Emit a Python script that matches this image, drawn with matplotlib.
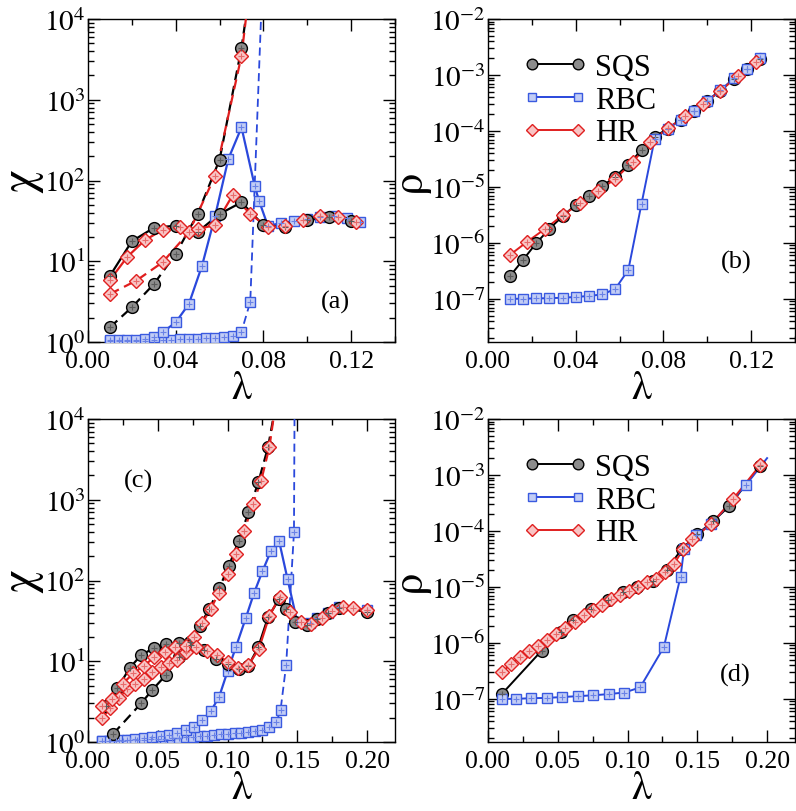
import numpy as np
import matplotlib
matplotlib.use("Agg")
import matplotlib.pyplot as plt
from matplotlib.ticker import LogLocator, MultipleLocator, FuncFormatter, NullFormatter
from matplotlib.lines import Line2D

plt.rcParams['font.family'] = ['Liberation Serif', 'DejaVu Serif']
plt.rcParams['mathtext.fontset'] = 'stix'

# ---------------- data: panel (a) chi vs lambda ----------------
a_sqs_sol_lam = [0.010, 0.020, 0.030, 0.040, 0.050, 0.060, 0.070, 0.080, 0.090, 0.100, 0.110, 0.120]
a_sqs_sol_chi = [6.6, 17.7, 25.9, 27.6, 23.0, 38.5, 53.7, 27.9, 26.8, 32.3, 35.0, 31.8]
a_sqs_dsh_lam = [0.010, 0.020, 0.030, 0.040, 0.050, 0.060, 0.070, 0.0725]
a_sqs_dsh_chi = [1.52, 2.69, 5.2, 12.3, 38.5, 181, 4370, 1.3e4]
a_hr_sol_lam = [0.010, 0.018, 0.026, 0.034, 0.042, 0.050, 0.058, 0.066, 0.074, 0.082, 0.090, 0.098, 0.106, 0.114, 0.122]
a_hr_sol_chi = [5.86, 11.4, 18.3, 24.4, 26.4, 25.0, 28.1, 66, 38.5, 26.4, 27.6, 32.7, 36.6, 35.0, 30.9]
a_hr_dsh_lam = [0.010, 0.022, 0.034, 0.046, 0.058, 0.070, 0.0725]
a_hr_dsh_chi = [3.93, 5.75, 9.7, 22.8, 115, 3515, 1.3e4]
a_rbc_sol_lam = [0.010, 0.014, 0.018, 0.022, 0.026, 0.030, 0.034, 0.040, 0.046, 0.052, 0.058, 0.064,
                 0.070, 0.076, 0.078, 0.082, 0.088, 0.094, 0.100, 0.106, 0.112, 0.118, 0.124]
a_rbc_sol_chi = [1.05, 1.05, 1.06, 1.07, 1.09, 1.15, 1.32, 1.75, 2.96, 8.8, 36.7, 185,
                 455, 86, 56, 27.6, 29.5, 31.8, 33.4, 35.5, 36.0, 34.0, 30.9]
a_rbc_dsh_lam = [0.010, 0.014, 0.018, 0.022, 0.026, 0.030, 0.034, 0.038, 0.042, 0.046, 0.050, 0.054,
                 0.058, 0.062, 0.066, 0.070, 0.074, 0.0790]
a_rbc_dsh_chi = [1.02, 1.02, 1.03, 1.03, 1.04, 1.05, 1.06, 1.07, 1.08, 1.09, 1.10, 1.11,
                 1.13, 1.16, 1.19, 1.34, 3.15, 1.2e4]

# ---------------- data: panel (b) rho vs lambda ----------------
b_sqs_lam = [0.010, 0.016, 0.022, 0.028, 0.034, 0.040, 0.046, 0.052, 0.058, 0.064,
             0.070, 0.076, 0.082, 0.088, 0.094, 0.100, 0.106, 0.112, 0.118, 0.124]
b_sqs_rho = [2.54e-7, 5.0e-7, 9.9e-7, 1.78e-6, 3.0e-6, 4.8e-6, 7.0e-6, 1.02e-5, 1.53e-5, 2.5e-5,
             4.6e-5, 7.9e-5, 1.1e-4, 1.6e-4, 2.3e-4, 3.5e-4, 5.2e-4, 8.5e-4, 1.28e-3, 1.93e-3]
b_rbc_lam = b_sqs_lam
b_rbc_rho = [1.0e-7, 1.01e-7, 1.02e-7, 1.03e-7, 1.05e-7, 1.08e-7, 1.13e-7, 1.2e-7, 1.5e-7, 3.3e-7,
             5.0e-6, 7.2e-5, 1.1e-4, 1.6e-4, 2.3e-4, 3.5e-4, 5.3e-4, 8.7e-4, 1.3e-3, 2.0e-3]
b_hr_lam = [0.010, 0.018, 0.026, 0.034, 0.042, 0.050, 0.058, 0.066, 0.074, 0.082, 0.090, 0.098, 0.106, 0.114, 0.122]
b_hr_rho = [6.1e-7, 1.06e-6, 1.78e-6, 3.1e-6, 5.1e-6, 8.3e-6, 1.39e-5, 2.8e-5, 6.3e-5, 1.12e-4,
            1.83e-4, 3.0e-4, 5.2e-4, 9.7e-4, 1.69e-3]

# ---------------- data: panel (c) chi vs lambda ----------------
c_sqs_sol_lam = [0.013, 0.021, 0.030, 0.038, 0.047, 0.056, 0.065, 0.074, 0.083, 0.092, 0.100, 0.108,
                 0.115, 0.122, 0.129, 0.137, 0.142, 0.148, 0.157, 0.164, 0.172, 0.180, 0.200]
c_sqs_sol_chi = [2.8, 4.6, 8.3, 11.9, 14.5, 16.2, 16.8, 15.8, 13.6, 10.6, 9.2, 8.0,
                 8.8, 14.9, 35, 59, 44, 31, 28, 33, 40, 46, 41]
c_sqs_dsh_lam = [0.018, 0.038, 0.046, 0.056, 0.065, 0.073, 0.080, 0.087, 0.094, 0.101, 0.108, 0.115,
                 0.122, 0.129, 0.1335]
c_sqs_dsh_chi = [1.26, 3.0, 4.4, 6.8, 11.2, 17.5, 27, 45, 80, 152, 311, 698, 1640, 4460, 1.2e4]
c_hr_sol_lam = [0.010, 0.0175, 0.025, 0.0325, 0.040, 0.0475, 0.055, 0.0625, 0.070, 0.0775, 0.085, 0.0925,
                0.100, 0.1075, 0.115, 0.1225, 0.130, 0.1375, 0.145, 0.1525, 0.160, 0.1675, 0.175, 0.1825,
                0.190, 0.200]
c_hr_sol_chi = [2.8, 3.4, 5.3, 7.1, 8.8, 11.2, 13.2, 15.2, 15.5, 15.0, 13.3, 11.8,
                9.9, 8.3, 9.0, 14.3, 36.7, 63, 41, 31, 29, 34, 42, 47, 46, 43]
c_hr_dsh_lam = [0.010, 0.016, 0.022, 0.028, 0.034, 0.040, 0.046, 0.052, 0.058, 0.064, 0.070, 0.076,
                0.082, 0.088, 0.094, 0.100, 0.106, 0.112, 0.118, 0.124, 0.130, 0.1335]
c_hr_dsh_chi = [2.0, 2.6, 3.5, 4.5, 5.3, 6.0, 7.3, 8.4, 9.4, 10.5, 13.0, 20,
                30, 45, 71, 120, 215, 410, 880, 1700, 4500, 1.2e4]
c_rbc_sol_lam = [0.010, 0.016, 0.022, 0.028, 0.034, 0.040, 0.046, 0.052, 0.058, 0.064, 0.070, 0.076,
                 0.082, 0.088, 0.094, 0.100, 0.106, 0.113, 0.119, 0.125, 0.131, 0.137, 0.143, 0.150,
                 0.159, 0.164, 0.172, 0.180, 0.200]
c_rbc_sol_chi = [1.03, 1.04, 1.05, 1.07, 1.09, 1.11, 1.14, 1.17, 1.22, 1.29, 1.41, 1.52,
                 1.87, 2.4, 3.64, 7.5, 15, 34, 70, 130, 230, 305, 104, 30.5,
                 30, 34, 40, 47, 43]
c_rbc_dsh_lam = [0.010, 0.015, 0.020, 0.025, 0.030, 0.035, 0.040, 0.045, 0.050, 0.055, 0.060, 0.065,
                 0.070, 0.075, 0.080, 0.085, 0.090, 0.095, 0.100, 0.105, 0.110, 0.115, 0.120, 0.125,
                 0.130, 0.135, 0.138, 0.142, 0.1476, 0.1480]
c_rbc_dsh_chi = [1.02, 1.02, 1.03, 1.04, 1.05, 1.06, 1.07, 1.08, 1.09, 1.10, 1.11, 1.13,
                 1.14, 1.16, 1.18, 1.20, 1.22, 1.24, 1.26, 1.28, 1.30, 1.33, 1.37, 1.42,
                 1.55, 1.75, 2.5, 9.0, 395, 1.2e4]

# ---------------- data: panel (d) rho vs lambda ----------------
d_sqs_lam = [0.010, 0.0385, 0.052, 0.061, 0.074, 0.086, 0.0965, 0.107, 0.1185, 0.128, 0.139, 0.150,
             0.1614, 0.173, 0.195]
d_sqs_rho = [1.23e-7, 7.3e-7, 1.54e-6, 2.57e-6, 4.05e-6, 5.9e-6, 8.0e-6, 1.01e-5, 1.29e-5, 2.03e-5,
             4.8e-5, 8.8e-5, 1.49e-4, 2.8e-4, 1.47e-3]
d_rbc_lam = [0.010, 0.020, 0.031, 0.042, 0.053, 0.0647, 0.0755, 0.0867, 0.0977, 0.109, 0.126, 0.138,
             0.1405, 0.149, 0.160, 0.185, 0.200]
d_rbc_rho = [1.0e-7, 1.0e-7, 1.03e-7, 1.04e-7, 1.08e-7, 1.12e-7, 1.16e-7, 1.22e-7, 1.3e-7, 1.6e-7,
             8.4e-7, 1.53e-5, 4.8e-5, 8.5e-5, 1.33e-4, 6.7e-4, 2.0e-3]
d_hr_lam = [0.010, 0.0165, 0.023, 0.0295, 0.036, 0.0425, 0.049, 0.0555, 0.062, 0.0685, 0.075, 0.0815,
            0.088, 0.0945, 0.101, 0.1075, 0.114, 0.1205, 0.127, 0.1335, 0.140, 0.1465, 0.160, 0.1755, 0.195]
d_hr_rho = [3.0e-7, 4.2e-7, 5.5e-7, 7.1e-7, 8.9e-7, 1.15e-6, 1.44e-6, 1.82e-6, 2.4e-6, 3.1e-6, 3.8e-6, 4.8e-6,
            6.1e-6, 7.2e-6, 8.6e-6, 1.01e-5, 1.25e-5, 1.39e-5, 1.82e-5, 2.6e-5, 4.8e-5, 7.2e-5,
            1.33e-4, 3.7e-4, 1.5e-3]

legend_labels = ["SQS", "RBC", "HR"]

# ---------------- styles ----------------
STY = {
    'sqs': dict(color='#000000', marker='o', mfc='#8c8c8c', mec='#000000', ms=8.5, pat='#5a5a5a'),
    'rbc': dict(color='#2a48dc', marker='s', mfc='#c2cdf5', mec='#3a5ae0', ms=7, pat='#6a82e6'),
    'hr':  dict(color='#e01e1e', marker='D', mfc='#f8c4c4', mec='#e02020', ms=6.8, pat='#e86a6a'),
}
DASH = (0, (4.5, 2.6))
GREEK = 'STIXGeneral'


def series(ax, lam, val, key, dashed=False, tail=0, lw=1.6, z=3):
    s = STY[key]
    n = len(lam)
    ls = DASH if dashed else '-'
    ax.plot(lam, val, ls=ls, color=s['color'], lw=lw, zorder=z)
    ax.plot(lam[:n - tail], val[:n - tail], ls='none', marker=s['marker'], ms=s['ms'],
            mfc=s['mfc'], mec=s['mec'], mew=1.0, zorder=z + 0.5)
    # inner texture imitating the patterned symbol fill
    ax.plot(lam[:n - tail], val[:n - tail], ls='none', marker='+', ms=s['ms'] * 0.55,
            mec=s['pat'], mew=0.8, zorder=z + 0.6)


def log_fmt(v, _):
    e = int(round(np.log10(v)))
    return r'$10^{%d}$' % e


def style_axes(ax, xmax, xmaj, ylo, yhi, ylabel, ysize):
    ax.set_yscale('log')
    ax.set_xlim(0, xmax)
    ax.set_ylim(ylo, yhi)
    ax.xaxis.set_major_locator(MultipleLocator(xmaj))
    ax.xaxis.set_minor_locator(MultipleLocator(xmaj / 2))
    ax.xaxis.set_major_formatter(FuncFormatter(lambda v, _: '%.2f' % v))
    ax.yaxis.set_major_locator(LogLocator(base=10, numticks=20))
    ax.yaxis.set_minor_locator(LogLocator(base=10, subs=np.arange(2, 10), numticks=20))
    ax.yaxis.set_major_formatter(FuncFormatter(log_fmt))
    ax.yaxis.set_minor_formatter(NullFormatter())
    ax.tick_params(which='both', direction='in', top=True, right=True, width=1.0)
    ax.tick_params(which='major', length=8.5)
    ax.tick_params(which='minor', length=4)
    ax.tick_params(axis='x', which='major', labelsize=18.5, pad=6)
    ax.tick_params(axis='y', which='major', labelsize=21, pad=2)
    for sp in ax.spines.values():
        sp.set_linewidth(1.0)
    ax.set_xlabel('λ', fontsize=29, labelpad=-2, family=GREEK)
    ax.set_ylabel(ylabel, fontsize=ysize, labelpad=0, family=GREEK)


fig = plt.figure(figsize=(7.96, 8.12), dpi=100)
W, H = 796.0, 812.0
def pos(l, t, r, b):
    return [l / W, (H - b) / H, (r - l) / W, (b - t) / H]

ax_a = fig.add_axes(pos(88, 20, 395, 343))
ax_b = fig.add_axes(pos(488, 20, 795, 343))
ax_c = fig.add_axes(pos(88, 420, 395, 743))
ax_d = fig.add_axes(pos(488, 420, 795, 743))

# panel (a)
series(ax_a, a_rbc_dsh_lam, a_rbc_dsh_chi, 'rbc', dashed=True, tail=1, lw=1.3)
series(ax_a, a_rbc_sol_lam, a_rbc_sol_chi, 'rbc')
series(ax_a, a_sqs_dsh_lam, a_sqs_dsh_chi, 'sqs', dashed=True, tail=1)
series(ax_a, a_sqs_sol_lam, a_sqs_sol_chi, 'sqs')
series(ax_a, a_hr_dsh_lam, a_hr_dsh_chi, 'hr', dashed=True, tail=1)
series(ax_a, a_hr_sol_lam, a_hr_sol_chi, 'hr')
style_axes(ax_a, 0.14, 0.04, 1, 1e4, 'χ', 34)
ax_a.text(0.805, 0.127, '(a)', transform=ax_a.transAxes, fontsize=19, ha='center', va='center')

# panel (b)
series(ax_b, b_sqs_lam, b_sqs_rho, 'sqs', lw=1.4)
series(ax_b, b_rbc_lam, b_rbc_rho, 'rbc', lw=1.4)
series(ax_b, b_hr_lam, b_hr_rho, 'hr', lw=1.4)
style_axes(ax_b, 0.14, 0.04, 10 ** -7.77, 1e-2, 'ρ', 32)
ax_b.text(0.81, 0.248, '(b)', transform=ax_b.transAxes, fontsize=19, ha='center', va='center')

# panel (c)
series(ax_c, c_rbc_dsh_lam, c_rbc_dsh_chi, 'rbc', dashed=True, tail=1, lw=1.3)
series(ax_c, c_rbc_sol_lam, c_rbc_sol_chi, 'rbc')
series(ax_c, c_sqs_dsh_lam, c_sqs_dsh_chi, 'sqs', dashed=True, tail=1)
series(ax_c, c_sqs_sol_lam, c_sqs_sol_chi, 'sqs')
series(ax_c, c_hr_dsh_lam, c_hr_dsh_chi, 'hr', dashed=True, tail=1)
series(ax_c, c_hr_sol_lam, c_hr_sol_chi, 'hr')
style_axes(ax_c, 0.22, 0.05, 1, 1e4, 'χ', 34)
ax_c.text(0.164, 0.809, '(c)', transform=ax_c.transAxes, fontsize=19, ha='center', va='center')

# panel (d)
series(ax_d, d_sqs_lam, d_sqs_rho, 'sqs', lw=1.4)
series(ax_d, d_rbc_lam, d_rbc_rho, 'rbc', tail=1, lw=1.4)
series(ax_d, d_hr_lam, d_hr_rho, 'hr', lw=1.4)
style_axes(ax_d, 0.22, 0.05, 10 ** -7.77, 1e-2, 'ρ', 32)
ax_d.text(0.805, 0.21, '(d)', transform=ax_d.transAxes, fontsize=19, ha='center', va='center')

# legends
for ax in (ax_b, ax_d):
    handles = []
    for key in ('sqs', 'rbc', 'hr'):
        s = STY[key]
        handles.append(Line2D([], [], color=s['color'], lw=1.4, marker=s['marker'], ms=s['ms'] * 0.9,
                              mfc=s['mfc'], mec=s['mec'], mew=1.0))
    ax.legend(handles, legend_labels, loc='upper left', bbox_to_anchor=(0.115, 0.895), frameon=False,
              fontsize=22, numpoints=2, handlelength=2.1, handletextpad=0.25, labelspacing=0.12,
              borderpad=0, borderaxespad=0)

fig.savefig('out.png', dpi=100)
